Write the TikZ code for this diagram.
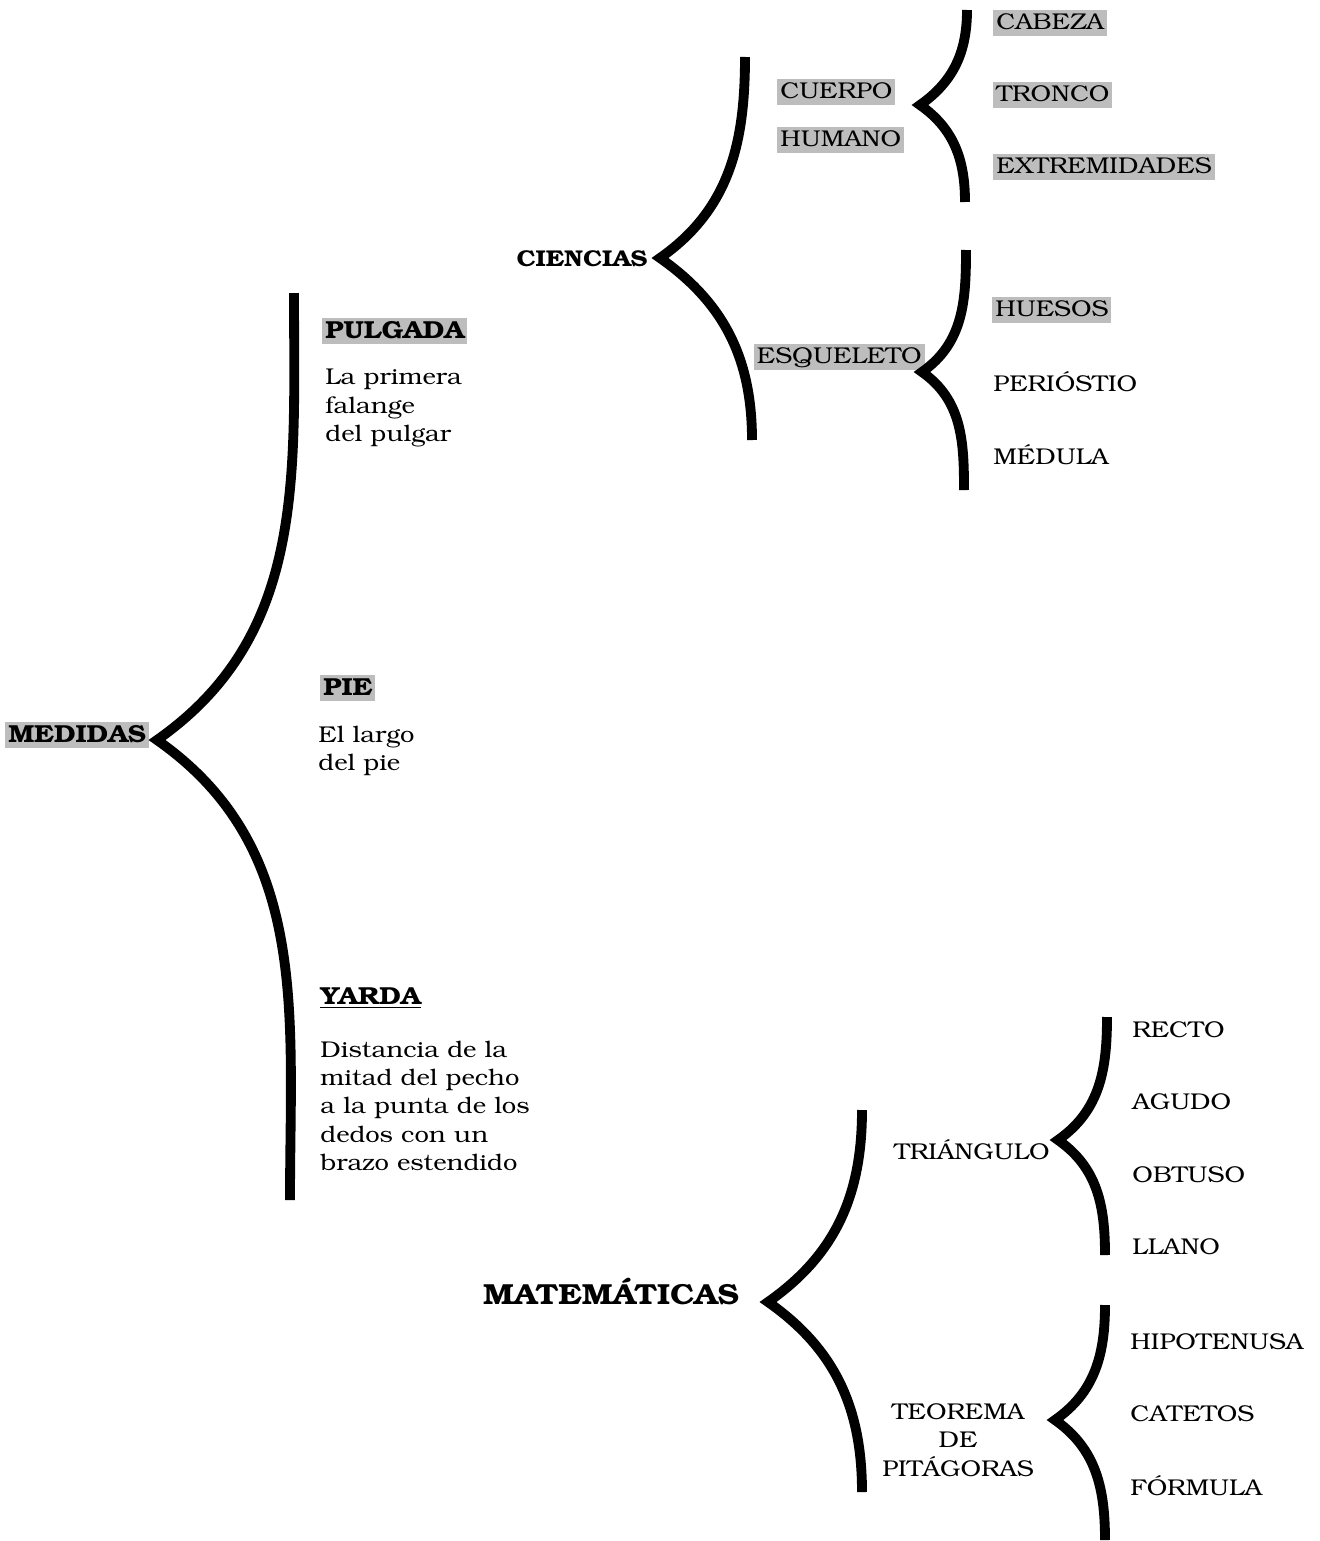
\documentclass[tikz,border=0pt]{standalone}
\usepackage[T1]{fontenc}
\usepackage{bookman}
\usetikzlibrary{positioning,calc}
\tikzset{
  tx/.style={inner sep=0pt,xscale=1.12,font=\fontsize{13}{16.2}\selectfont,align=left},
  hd/.style={inner sep=0pt,xscale=1.12,font=\fontsize{14}{17}\selectfont\bfseries},
  hl/.style={fill=gray!52,inner xsep=1.5pt,inner ysep=1.5pt,text height=9.5pt,text depth=2pt,xscale=1.12,font=\fontsize{13}{16}\selectfont},
  hlb/.style={hl,text height=10pt,font=\fontsize{14}{17}\selectfont\bfseries},
  brc/.style={line width=5.6pt,line join=miter,miter limit=30},
}
\begin{document}
\begin{tikzpicture}[x=0.02cm,y=-0.02cm]
  \useasboundingbox (0,0) rectangle (1319,1541);
  % medidas
  \node[hlb,anchor=west] (med) at (5,735) {MEDIDAS};
  \node[hlb,anchor=west] (pul) at (322,331) {PULGADA};
  \node[tx,anchor=west] (pul-t) at (325,408) {La primera\\falange\\del pulgar};
  \node[hlb,anchor=west] (pie) at (320,688) {PIE};
  \node[tx,anchor=west] (pie-t) at (318,751) {El largo\\del pie};
  \node[hd,anchor=west] (yar) at (320,998) {\underline{YARDA}};
  \node[tx,anchor=west] (yar-t) at (320,1106) {Distancia de la\\mitad del pecho\\a la punta de los\\dedos con un\\brazo estendido};
  % ciencias
  \node[hd,anchor=east,font=\fontsize{13}{16}\selectfont\bfseries] (cie) at (648,259) {CIENCIAS};
  \node[hl,anchor=west] (cue) at (777,92) {CUERPO};
  \node[hl,anchor=west] (hum) at (777,140) {HUMANO};
  \node[hl,anchor=west] (cab) at (993,23) {CABEZA};
  \node[hl,anchor=west] (tro) at (993,95) {TRONCO};
  \node[hl,anchor=west] (ext) at (993,167) {EXTREMIDADES};
  \node[hl,anchor=east] (esq) at (925,357) {ESQUELETO};
  \node[hl,anchor=west] (hue) at (992,310) {HUESOS};
  \node[tx,anchor=west] (per) at (993,382) {PERI\'OSTIO};
  \node[tx,anchor=west] (medu) at (993,455) {M\'EDULA};
  % matematicas
  \node[hd,font=\fontsize{16.5}{20}\selectfont\bfseries] (mat) at (611,1292) {MATEM\'ATICAS};
  \node[tx,anchor=east] (tri) at (1050,1150) {TRI\'ANGULO};
  \node[tx,anchor=west] (rec) at (1132,1030) {RECTO};
  \node[tx,anchor=west] (agu) at (1132,1102) {AGUDO};
  \node[tx,anchor=west] (obt) at (1132,1175) {OBTUSO};
  \node[tx,anchor=west] (lla) at (1132,1247) {LLANO};
  \node[tx,align=center] (teo) at (958,1440) {TEOREMA\\DE\\PIT\'AGORAS};
  \node[tx,anchor=west] (hip) at (1130,1342) {HIPOTENUSA};
  \node[tx,anchor=west] (cat) at (1130,1414) {CATETOS};
  \node[tx,anchor=west] (for) at (1130,1486) {F\'ORMULA};
  % braces
  \coordinate (med-t) at (294,293);  \coordinate (med-c) at (157,740);  \coordinate (med-b) at (290,1200);
  \coordinate (cie-t) at (745,57);   \coordinate (cie-c) at (660,258);  \coordinate (cie-b) at (752,440);
  \coordinate (cue-t) at (967,10);   \coordinate (cue-c) at (920,105);  \coordinate (cue-b) at (965,202);
  \coordinate (esq-t) at (966,250);  \coordinate (esq-c) at (922,372);  \coordinate (esq-b) at (964,490);
  \coordinate (mat-t) at (862,1110); \coordinate (mat-c) at (768,1302); \coordinate (mat-b) at (862,1492);
  \coordinate (tri-t) at (1107,1017);\coordinate (tri-c) at (1058,1140);\coordinate (tri-b) at (1105,1255);
  \coordinate (teo-t) at (1105,1305);\coordinate (teo-c) at (1055,1420);\coordinate (teo-b) at (1105,1540);
  \foreach \n in {med,cie,cue,esq,mat,tri,teo}
    \draw[brc] (\n-t) to[out=-90,in=35] (\n-c) to[out=-35,in=90] (\n-b);
\end{tikzpicture}
\end{document}
